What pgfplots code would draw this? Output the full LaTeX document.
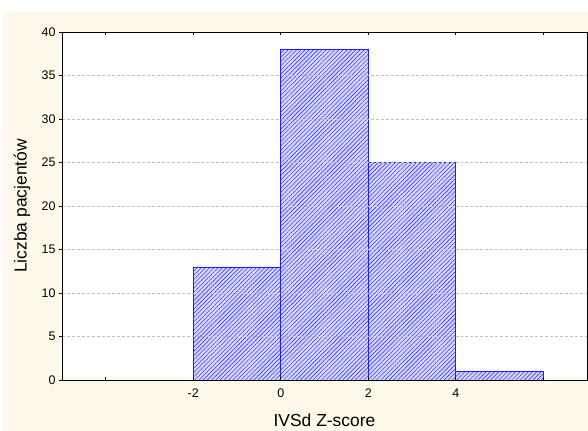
\documentclass[border=0pt]{standalone}
\usepackage{fontspec}
\setmainfont{Liberation Sans}
\usepackage{pgfplots}
\pgfplotsset{compat=1.18}
\usetikzlibrary{patterns.meta}
\definecolor{cream}{RGB}{255,249,236}
\definecolor{barline}{RGB}{30,30,255}
\definecolor{barfill}{RGB}{215,215,255}
\definecolor{hatch}{RGB}{60,60,255}
\begin{document}
\begin{tikzpicture}
\useasboundingbox (-62bp,-51bp) rectangle (526bp,380bp);
\fill[cream] (-59bp,-51bp) rectangle (526bp,368bp);
\begin{axis}[
  at={(0,0)}, anchor=south west,
  scale only axis,
  width=525bp, height=348bp,
  xmin=-5, xmax=7, ymin=0, ymax=40,
  axis background/.style={fill=white},
  xtick={-4,-2,0,2,4,6},
  xticklabels={,-2,0,2,4,},
  ytick={0,5,...,40},
  xtick align=inside,
  ytick align=outside,
  xtick pos=both,
  ytick pos=both,
  major tick length=3bp,
  ymajorgrids,
  grid style={densely dashed, gray!50, line width=0.5pt},
  axis line style={black, line width=0.8pt},
  tick style={black, line width=0.6pt},
  /pgf/number format/assume math mode=true,
  tick label style={font=\fontsize{12.5}{14}\selectfont},
  xticklabel style={yshift=-5bp},
  label style={font=\fontsize{17.5}{20}\selectfont},
  xlabel={IVSd Z-score},
  ylabel={Liczba pacjentów},
  xlabel style={at={(axis description cs:0.5,-0.115)},anchor=center},
  ylabel style={at={(axis description cs:-0.076,0.5)},anchor=center},
  axis on top,
]
\addplot[ybar interval, draw=barline, line width=0.8pt, fill=barfill,
  postaction={pattern={Lines[angle=45,distance=3pt,line width=0.6pt]}, pattern color=hatch}]
  coordinates {(-2,13) (0,38) (2,25) (4,1) (6,0)};
\end{axis}
\end{tikzpicture}
\end{document}
